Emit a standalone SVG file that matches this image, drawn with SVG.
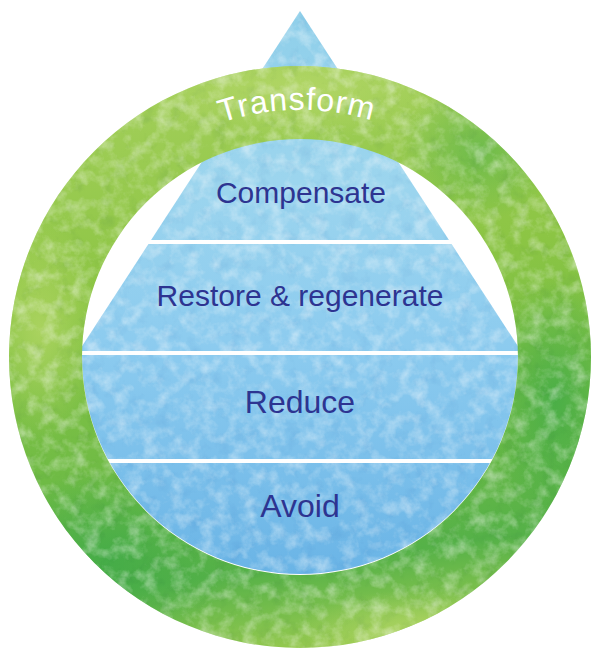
<svg xmlns="http://www.w3.org/2000/svg" width="593" height="650" viewBox="0 0 593 650">
  <style>
    .tier { font-family: "Liberation Sans", Arial, Helvetica, sans-serif; fill: #2d3491; text-anchor: middle; }
    .ringtxt { font-family: "Liberation Sans", Arial, Helvetica, sans-serif; fill: #ffffff; font-size: 32px; letter-spacing: 1px; }
    .sep { fill: #ffffff; }
  </style>
  <defs>
    <linearGradient id="blueGrad" gradientUnits="userSpaceOnUse" x1="0" y1="11" x2="0" y2="575">
      <stop offset="0" stop-color="#8fcfea"/>
      <stop offset="0.3" stop-color="#9cd5ee"/>
      <stop offset="0.6" stop-color="#8ccbef"/>
      <stop offset="1" stop-color="#6ab4e6"/>
    </linearGradient>
    <linearGradient id="greenGrad" gradientUnits="userSpaceOnUse" x1="260" y1="66" x2="340" y2="648">
      <stop offset="0" stop-color="#a3cf5a"/>
      <stop offset="0.35" stop-color="#8cc544"/>
      <stop offset="0.65" stop-color="#6fbb45"/>
      <stop offset="0.85" stop-color="#55b148"/>
      <stop offset="1" stop-color="#9acb50"/>
    </linearGradient>
    <radialGradient id="darkPatch">
      <stop offset="0" stop-color="#3eaa48" stop-opacity="0.75"/>
      <stop offset="1" stop-color="#3eaa48" stop-opacity="0"/>
    </radialGradient>
    <radialGradient id="lightPatch">
      <stop offset="0" stop-color="#b8d96a" stop-opacity="0.7"/>
      <stop offset="1" stop-color="#b8d96a" stop-opacity="0"/>
    </radialGradient>
    <filter id="wc" x="0%" y="0%" width="100%" height="100%" color-interpolation-filters="sRGB">
      <feTurbulence type="fractalNoise" baseFrequency="0.07" numOctaves="4" seed="7" result="n"/>
      <feColorMatrix in="n" type="matrix" values="0 0 0 0 1  0 0 0 0 1  0 0 0 0 1  0.9 0 0 0 -0.38" result="w"/>
      <feComposite in="w" in2="SourceGraphic" operator="in" result="wi"/>
      <feColorMatrix in="SourceGraphic" type="matrix" values="0.82 0 0 0 0  0 0.88 0 0 0  0 0 0.94 0 0  0 0 0 1 0" result="dk"/>
      <feColorMatrix in="n" type="matrix" values="0 0 0 0 0  0 0 0 0 0  0 0 0 0 0  0 -1.1 0 0 0.5" result="dm"/>
      <feComposite in="dk" in2="dm" operator="in" result="di"/>
      <feMerge><feMergeNode in="SourceGraphic"/><feMergeNode in="di"/><feMergeNode in="wi"/></feMerge>
    </filter>
    <clipPath id="ringClip">
      <path clip-rule="evenodd" d="M9,357 A291,291 0 1 0 591,357 A291,291 0 1 0 9,357 Z M82,357 A218,218 0 1 1 518,357 A218,218 0 1 1 82,357 Z"/>
    </clipPath>
    <path id="arcPath" d="M86,233.5 A247,247 0 0 1 514,233.5"/>
  </defs>

  <rect x="0" y="0" width="593" height="650" fill="#ffffff"/>

  <g id="pyramid" filter="url(#wc)">
    <polygon points="300,11 75,357 525,357" fill="url(#blueGrad)"/>
    <path d="M82,356 A218,218 0 0 0 518,356 Z" fill="url(#blueGrad)"/>
  </g>

  <g id="separators">
    <rect class="sep" x="140" y="240" width="320" height="4"/>
    <rect class="sep" x="60" y="351" width="480" height="4"/>
    <rect class="sep" x="60" y="459" width="480" height="4"/>
  </g>

  <g id="compensate">
    <text class="tier" x="301" y="203" font-size="30">Compensate</text>
  </g>
  <g id="restore">
    <text class="tier" x="300" y="306" font-size="30">Restore &amp; regenerate</text>
  </g>
  <g id="reduce">
    <text class="tier" x="300" y="413" font-size="32">Reduce</text>
  </g>
  <g id="avoid">
    <text class="tier" x="300" y="517" font-size="32">Avoid</text>
  </g>

  <g id="transform">
    <g filter="url(#wc)">
      <path fill-rule="evenodd" fill="url(#greenGrad)" d="M9,357 A291,291 0 1 0 591,357 A291,291 0 1 0 9,357 Z M82,357 A218,218 0 1 1 518,357 A218,218 0 1 1 82,357 Z"/>
      <g clip-path="url(#ringClip)">
        <ellipse cx="110" cy="560" rx="120" ry="90" fill="url(#darkPatch)"/>
        <ellipse cx="555" cy="400" rx="70" ry="120" fill="url(#darkPatch)"/>
        <ellipse cx="480" cy="150" rx="80" ry="70" fill="url(#darkPatch)" opacity="0.6"/>
        <ellipse cx="40" cy="330" rx="60" ry="110" fill="url(#lightPatch)"/>
        <ellipse cx="300" cy="90" rx="160" ry="50" fill="url(#lightPatch)"/>
        <ellipse cx="420" cy="630" rx="120" ry="40" fill="url(#lightPatch)"/>
      </g>
    </g>
    <text class="ringtxt"><textPath href="#arcPath" startOffset="49.4%" text-anchor="middle">Transform</textPath></text>
  </g>
</svg>
